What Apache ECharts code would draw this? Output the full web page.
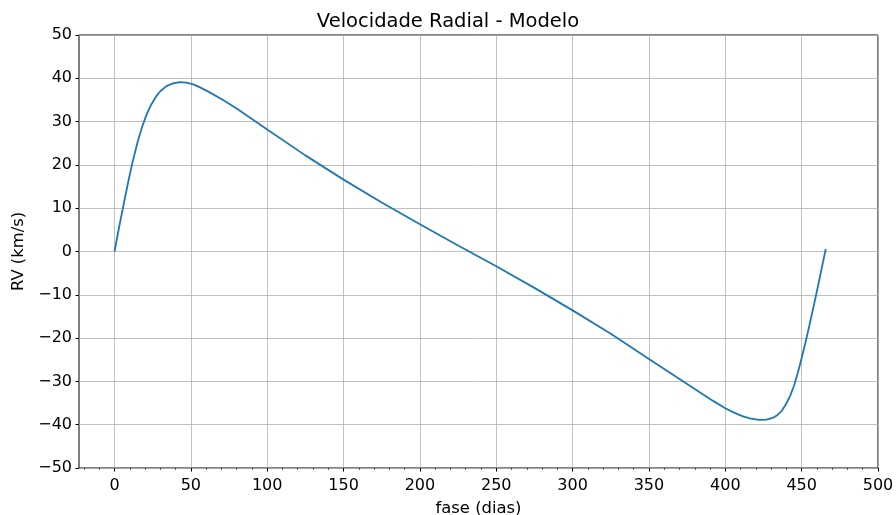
<!DOCTYPE html>
<html>
<head>
<meta charset="utf-8">
<script src="https://cdn.jsdelivr.net/npm/echarts@6/dist/echarts.min.js"></script>
<style>
html, body { margin: 0; padding: 0; background: #fff; }
#chart { width: 896px; height: 515px; }
</style>
</head>
<body>
<div id="chart"></div>
<script>
// fase (dias)
var fase = [0, 3, 6, 9, 12, 15, 18, 21, 24, 27, 30, 34, 38, 42.8, 47, 51.6, 56, 62, 70,
	80, 90, 100, 125, 150, 175, 200, 225, 250, 275, 300, 325, 350, 375, 384.5, 392, 400, 405,
	410.7, 416, 422, 427, 431, 434, 437, 439.5, 442.4, 445, 447.5, 450, 452.5, 455, 457, 459,
	461, 463, 465.8];
// velocidade radial (km/s)
var rv = [0, 5.6, 10.9, 16.1, 20.9, 25.1, 28.7, 31.6, 33.9, 35.7, 37.0, 38.2, 38.8, 39.1, 39.0, 38.6, 37.9, 36.8, 35.2,
	33, 30.6, 28.2, 22.2, 16.6, 11.3, 6.3, 1.4, -3.4, -8.4, -13.6, -19.0, -24.8, -30.6, -32.8, -34.5, -36.2, -37.1,
	-37.95, -38.55, -38.9, -38.85, -38.45, -37.8, -36.8, -35.4, -33.4, -31, -28, -24.6, -21.0, -17.2, -14.0, -10.8,
	-7.5, -4.1, 0.6];

var xTicks = [0, 50, 100, 150, 200, 250, 300, 350, 400, 450, 500];
var xMinor = [-20, -10, 0, 10, 20, 30, 40, 50, 60, 70, 80, 90, 100, 110, 120, 130, 140, 150, 160, 170,
	180, 190, 200, 210, 220, 230, 240, 250, 260, 270, 280, 290, 300, 310, 320, 330, 340, 350, 360,
	370, 380, 390, 400, 410, 420, 430, 440, 450, 460, 470, 480, 490, 500];

var pontos = fase.map(function (t, i) { return [t, rv[i]]; });

function menos(v) {
	return String(v).replace('-', '\u2212');
}

var chart = echarts.init(document.getElementById('chart'));

var option = {
	animation: false,
	textStyle: { fontFamily: 'DejaVu Sans' },
	title: {
		text: 'Velocidade Radial - Modelo',
		left: 'center',
		top: 7,
		textStyle: { fontSize: 19.5, fontWeight: 'normal', color: '#000', fontFamily: 'DejaVu Sans' }
	},
	grid: {
		left: 79, right: 18, top: 35, bottom: 47,
		outerBoundsMode: 'none',
		containLabel: false,
		show: true, borderColor: '#000', borderWidth: 1, backgroundColor: 'transparent'
	},
	xAxis: [{
		type: 'value',
		min: -23.25, max: 500,
		name: 'fase (dias)',
		nameLocation: 'middle',
		nameGap: 33,
		nameTextStyle: { fontSize: 16.4, color: '#000' },
		axisLine: { show: false, onZero: false },
		axisTick: { show: true, length: 3.5, customValues: xTicks, lineStyle: { color: '#000' } },
		axisLabel: { fontSize: 16, color: '#000', margin: 10, customValues: xTicks, formatter: menos },
		splitLine: { show: true, lineStyle: { color: '#b0b0b0', width: 0.8 } }
	}, {
		type: 'value',
		position: 'bottom',
		min: -23.25, max: 500,
		axisLine: { show: false, onZero: false },
		axisTick: { show: true, length: 2, customValues: xMinor, lineStyle: { color: '#000', width: 0.6 } },
		axisLabel: { show: false },
		splitLine: { show: false }
	}],
	yAxis: {
		type: 'value',
		min: -50, max: 50, interval: 10,
		name: 'RV (km/s)',
		nameLocation: 'middle',
		nameGap: 52,
		nameTextStyle: { fontSize: 16.4, color: '#000' },
		axisLine: { show: false, onZero: false },
		axisTick: { show: true, length: 3.5, lineStyle: { color: '#000' } },
		axisLabel: { fontSize: 16, color: '#000', margin: 7, padding: [2, 0, 0, 0], formatter: menos },
		splitLine: { show: true, lineStyle: { color: '#b0b0b0', width: 0.8 } }
	},
	series: [{
		type: 'line',
		data: pontos,
		showSymbol: false,
		smooth: false,
		lineStyle: { color: '#1f77b4', width: 1.8 },
		itemStyle: { color: '#1f77b4' }
	}]
};

chart.setOption(option);
</script>
</body>
</html>
